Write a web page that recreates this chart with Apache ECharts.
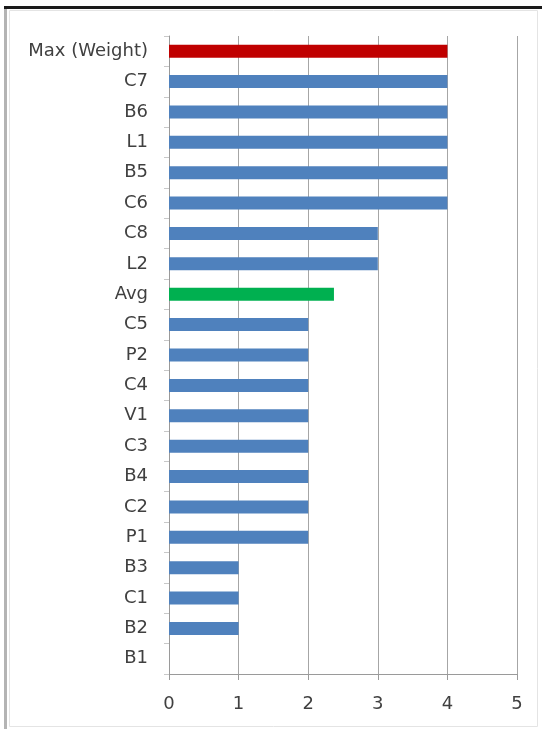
<!DOCTYPE html>
<html>
<head>
<meta charset="utf-8">
<script src="https://cdn.jsdelivr.net/npm/echarts@6/dist/echarts.min.js"></script>
<style>
  html, body { margin: 0; padding: 0; background: #ffffff; }
  #chart { width: 542px; height: 729px; }
</style>
</head>
<body>
<div id="chart"></div>
<script>
// Categories, top to bottom
const categories = ['Max (Weight)', 'C7', 'B6', 'L1', 'B5', 'C6', 'C8', 'L2', 'Avg',
  'C5', 'P2', 'C4', 'V1', 'C3', 'B4', 'C2', 'P1', 'B3', 'C1', 'B2', 'B1'];
const values = [4, 4, 4, 4, 4, 4, 3, 3, 2.37, 2, 2, 2, 2, 2, 2, 2, 2, 1, 1, 1, 0];
const xTicks = [0, 1, 2, 3, 4, 5];

const BLUE = '#4F81BD', RED = '#C00000', GREEN = '#00B050';
function barColor(name) {
  if (name === 'Max (Weight)') return RED;
  if (name === 'Avg') return GREEN;
  return BLUE;
}

const chart = echarts.init(document.getElementById('chart'), null, { renderer: 'canvas' });
const font = 'DejaVu Sans';

chart.setOption({
  animation: false,
  backgroundColor: '#ffffff',
  graphic: [
    // frame around the chart
    { type: 'rect', shape: { x: 9.5, y: 10.5, width: 528, height: 716 }, style: { fill: 'none', stroke: '#e4e4e4', lineWidth: 1 }, z: 0 },
    { type: 'rect', shape: { x: 4, y: 7, width: 3, height: 722 }, style: { fill: '#b4b4b4' }, z: 1 },
    { type: 'rect', shape: { x: 4, y: 6, width: 538, height: 3 }, style: { fill: '#1a1a1a' }, z: 2 }
  ],
  grid: { left: 169, right: 25, top: 36, bottom: 55, containLabel: false },
  xAxis: {
    type: 'value',
    min: xTicks[0],
    max: xTicks[xTicks.length - 1],
    interval: 1,
    axisLine: { show: true, lineStyle: { color: '#9a9a9a', width: 1 } },
    axisTick: { show: true, length: 6, lineStyle: { color: '#9a9a9a' } },
    splitLine: { show: true, lineStyle: { color: '#a6a6a6', width: 1 } },
    axisLabel: { color: '#404040', fontFamily: font, fontSize: 18, margin: 21 }
  },
  yAxis: {
    type: 'category',
    data: categories,
    inverse: true,
    axisLine: { show: true, lineStyle: { color: '#9a9a9a', width: 1 } },
    axisTick: { show: true, length: 5, inside: false, lineStyle: { color: '#c8c8c8' } },
    axisLabel: { color: '#404040', fontFamily: font, fontSize: 18, margin: 21 },
    splitLine: { show: false }
  },
  series: [{
    type: 'bar',
    barWidth: 13,
    data: categories.map((c, i) => ({ value: values[i], itemStyle: { color: barColor(c) } })),
    z: 3
  }]
});
</script>
</body>
</html>
